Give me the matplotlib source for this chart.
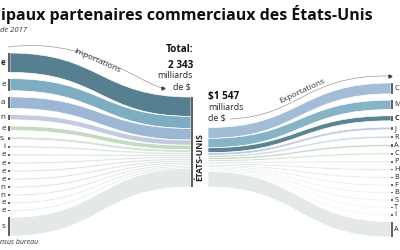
import matplotlib
matplotlib.use('Agg')
import matplotlib.pyplot as plt
from matplotlib.path import Path
from matplotlib.patches import PathPatch

plt.rcParams['font.family'] = ['Open Sans', 'DejaVu Sans']

# importations 2017, milliards de $ (labels cut by the frame)
imp_labels = ['e', 'e', 'a', 'n', 'e', 's.', 'i', 'e', 'e', 'e', 'e', 'n', 'n', 'e', 'e', 's']
imp_vals = [505.5, 314.3, 300.0, 136.5, 117.7, 71.2, 53.1, 50.0, 48.9, 48.6, 48.0, 46.5, 42.5, 38.0, 36.0, 486.2]
imp_colors = ['#56808f', '#7eadc1', '#9db6d3', '#c2cbe0', '#c4dbc0', '#d6e4d2'] + ['#dfe5e3'] * 9 + ['#e4e9e8']

# exportations 2017
exp_labels = ['C', 'M', 'C', 'J', 'R', 'A', 'C', 'P', 'H', 'B', 'F', 'B', 'S', 'T', 'I', 'A']
exp_vals = [282.3, 243.3, 130.4, 67.6, 56.3, 53.9, 48.3, 42.2, 40.0, 37.2, 33.6, 29.9, 29.8, 25.7, 25.7, 400.8]
exp_colors = ['#a3bdd6', '#86b3c6', '#5b8393', '#c2cbe0', '#d0dae4', '#c4dbc0', '#d6e4d2'] + ['#dfe6e4'] * 8 + ['#e4e9e8']

bold_left = 0
bold_right = 2

k = 0.0384  # px per milliard


def stack(vals, top, bottom=None):
    hs = [v * k for v in vals]
    gap = 0 if bottom is None else (bottom - top - sum(hs)) / (len(hs) - 1)
    out = []
    y = top
    for h in hs:
        out.append((y, y + h))
        y += h + gap
    return out


def flow(ax, x0, a0, b0, x1, a1, b1, color):
    xm = (x0 + x1) / 2
    verts = [(x0, a0), (xm, a0), (xm, a1), (x1, a1),
             (x1, b1), (xm, b1), (xm, b0), (x0, b0), (x0, a0)]
    codes = [Path.MOVETO, Path.CURVE4, Path.CURVE4, Path.CURVE4,
             Path.LINETO, Path.CURVE4, Path.CURVE4, Path.CURVE4, Path.CLOSEPOLY]
    ax.add_patch(PathPatch(Path(verts, codes), facecolor=color, edgecolor='white', lw=0.5))


fig = plt.figure(figsize=(4, 2.5), dpi=100)
ax = fig.add_axes([0, 0, 1, 1])
ax.set_xlim(0, 400)
ax.set_ylim(250, 0)
ax.axis('off')

xl, xc1, xc2, xr = 10, 191, 208, 391

left = stack(imp_vals, 53, 236)
cen_imp = stack(imp_vals, 97)
imp_bottom = cen_imp[-1][1]
cen_exp = stack(exp_vals, imp_bottom - sum(exp_vals) * k)
right = stack(exp_vals, 83, 237)

for (a0, b0), (a1, b1), c in zip(left, cen_imp, imp_colors):
    flow(ax, xl, a0, b0, xc1, a1, b1, c)
for (a0, b0), (a1, b1), c in zip(cen_exp, right, exp_colors):
    flow(ax, xc2, a0, b0, xr, a1, b1, c)

# node bars
for i, (a, b) in enumerate(left):
    m = (a + b) / 2
    ax.plot([9, 9], [min(a, m - 0.7), max(b, m + 0.7)], color='#333333', lw=1.1, solid_capstyle='butt')
    ax.text(5.5, m, imp_labels[i], ha='right', va='center', size=5.8,
            weight='bold' if i == bold_left else 'normal', color='#222222')
for i, (a, b) in enumerate(right):
    m = (a + b) / 2
    ax.plot([392, 392], [min(a, m - 0.7), max(b, m + 0.7)], color='#333333', lw=1.1, solid_capstyle='butt')
    ax.text(394.3, m, exp_labels[i], ha='left', va='center', size=5.2,
            weight='bold' if i == bold_right else 'normal', color='#222222')
ax.plot([192, 192], [cen_imp[0][0], imp_bottom], color='#333333', lw=1.1, solid_capstyle='butt')
ax.text(199.5, (cen_exp[0][0] + imp_bottom) / 2, 'ÉTATS-UNIS', rotation=90, ha='center', va='center',
        size=6.2, weight='bold', color='#222222')

# titles
ax.text(1, 14, 'ipaux partenaires commerciaux des États-Unis', ha='left', va='center',
        size=11.5, weight='bold', color='#111111')
ax.text(0, 31, 'de 2017', ha='left', va='center', size=5.5, style='italic', color='#333333')
ax.text(0, 243, 'nsus bureau', ha='left', va='center', size=5, style='italic', color='#333333')

# totals
ax.text(193, 50, 'Total:', ha='right', va='center', size=7.2, weight='bold', color='#111111')
ax.text(193, 65, '2 343', ha='right', va='center', size=7.2, weight='bold', color='#111111')
ax.text(193, 76, 'milliards', ha='right', va='center', size=6.3, color='#222222')
ax.text(191, 87, 'de $', ha='right', va='center', size=6.3, color='#222222')
ax.text(208, 97, '$1 547', ha='left', va='center', size=7.2, weight='bold', color='#111111')
ax.text(208, 107, 'milliards', ha='left', va='center', size=6.3, color='#222222')
ax.text(208, 118, 'de $', ha='left', va='center', size=6.3, color='#222222')

# arrows
p = Path([(8, 47), (85, 37), (135, 80), (162, 88)], [Path.MOVETO, Path.CURVE4, Path.CURVE4, Path.CURVE4])
ax.add_patch(PathPatch(p, fill=False, edgecolor='#999999', lw=0.5))
ax.plot([163], [88], marker='>', color='#444444', ms=2.2)
ax.text(97, 61, 'Importations', rotation=-24, ha='center', va='center', size=6, color='#333333')

p = Path([(230, 119), (300, 116), (305, 75), (389, 76)], [Path.MOVETO, Path.CURVE4, Path.CURVE4, Path.CURVE4])
ax.add_patch(PathPatch(p, fill=False, edgecolor='#999999', lw=0.5))
ax.plot([390], [76], marker='>', color='#444444', ms=2.2)
ax.text(302, 91, 'Exportations', rotation=25, ha='center', va='center', size=6, color='#333333')

fig.savefig('out.png', dpi=100)
